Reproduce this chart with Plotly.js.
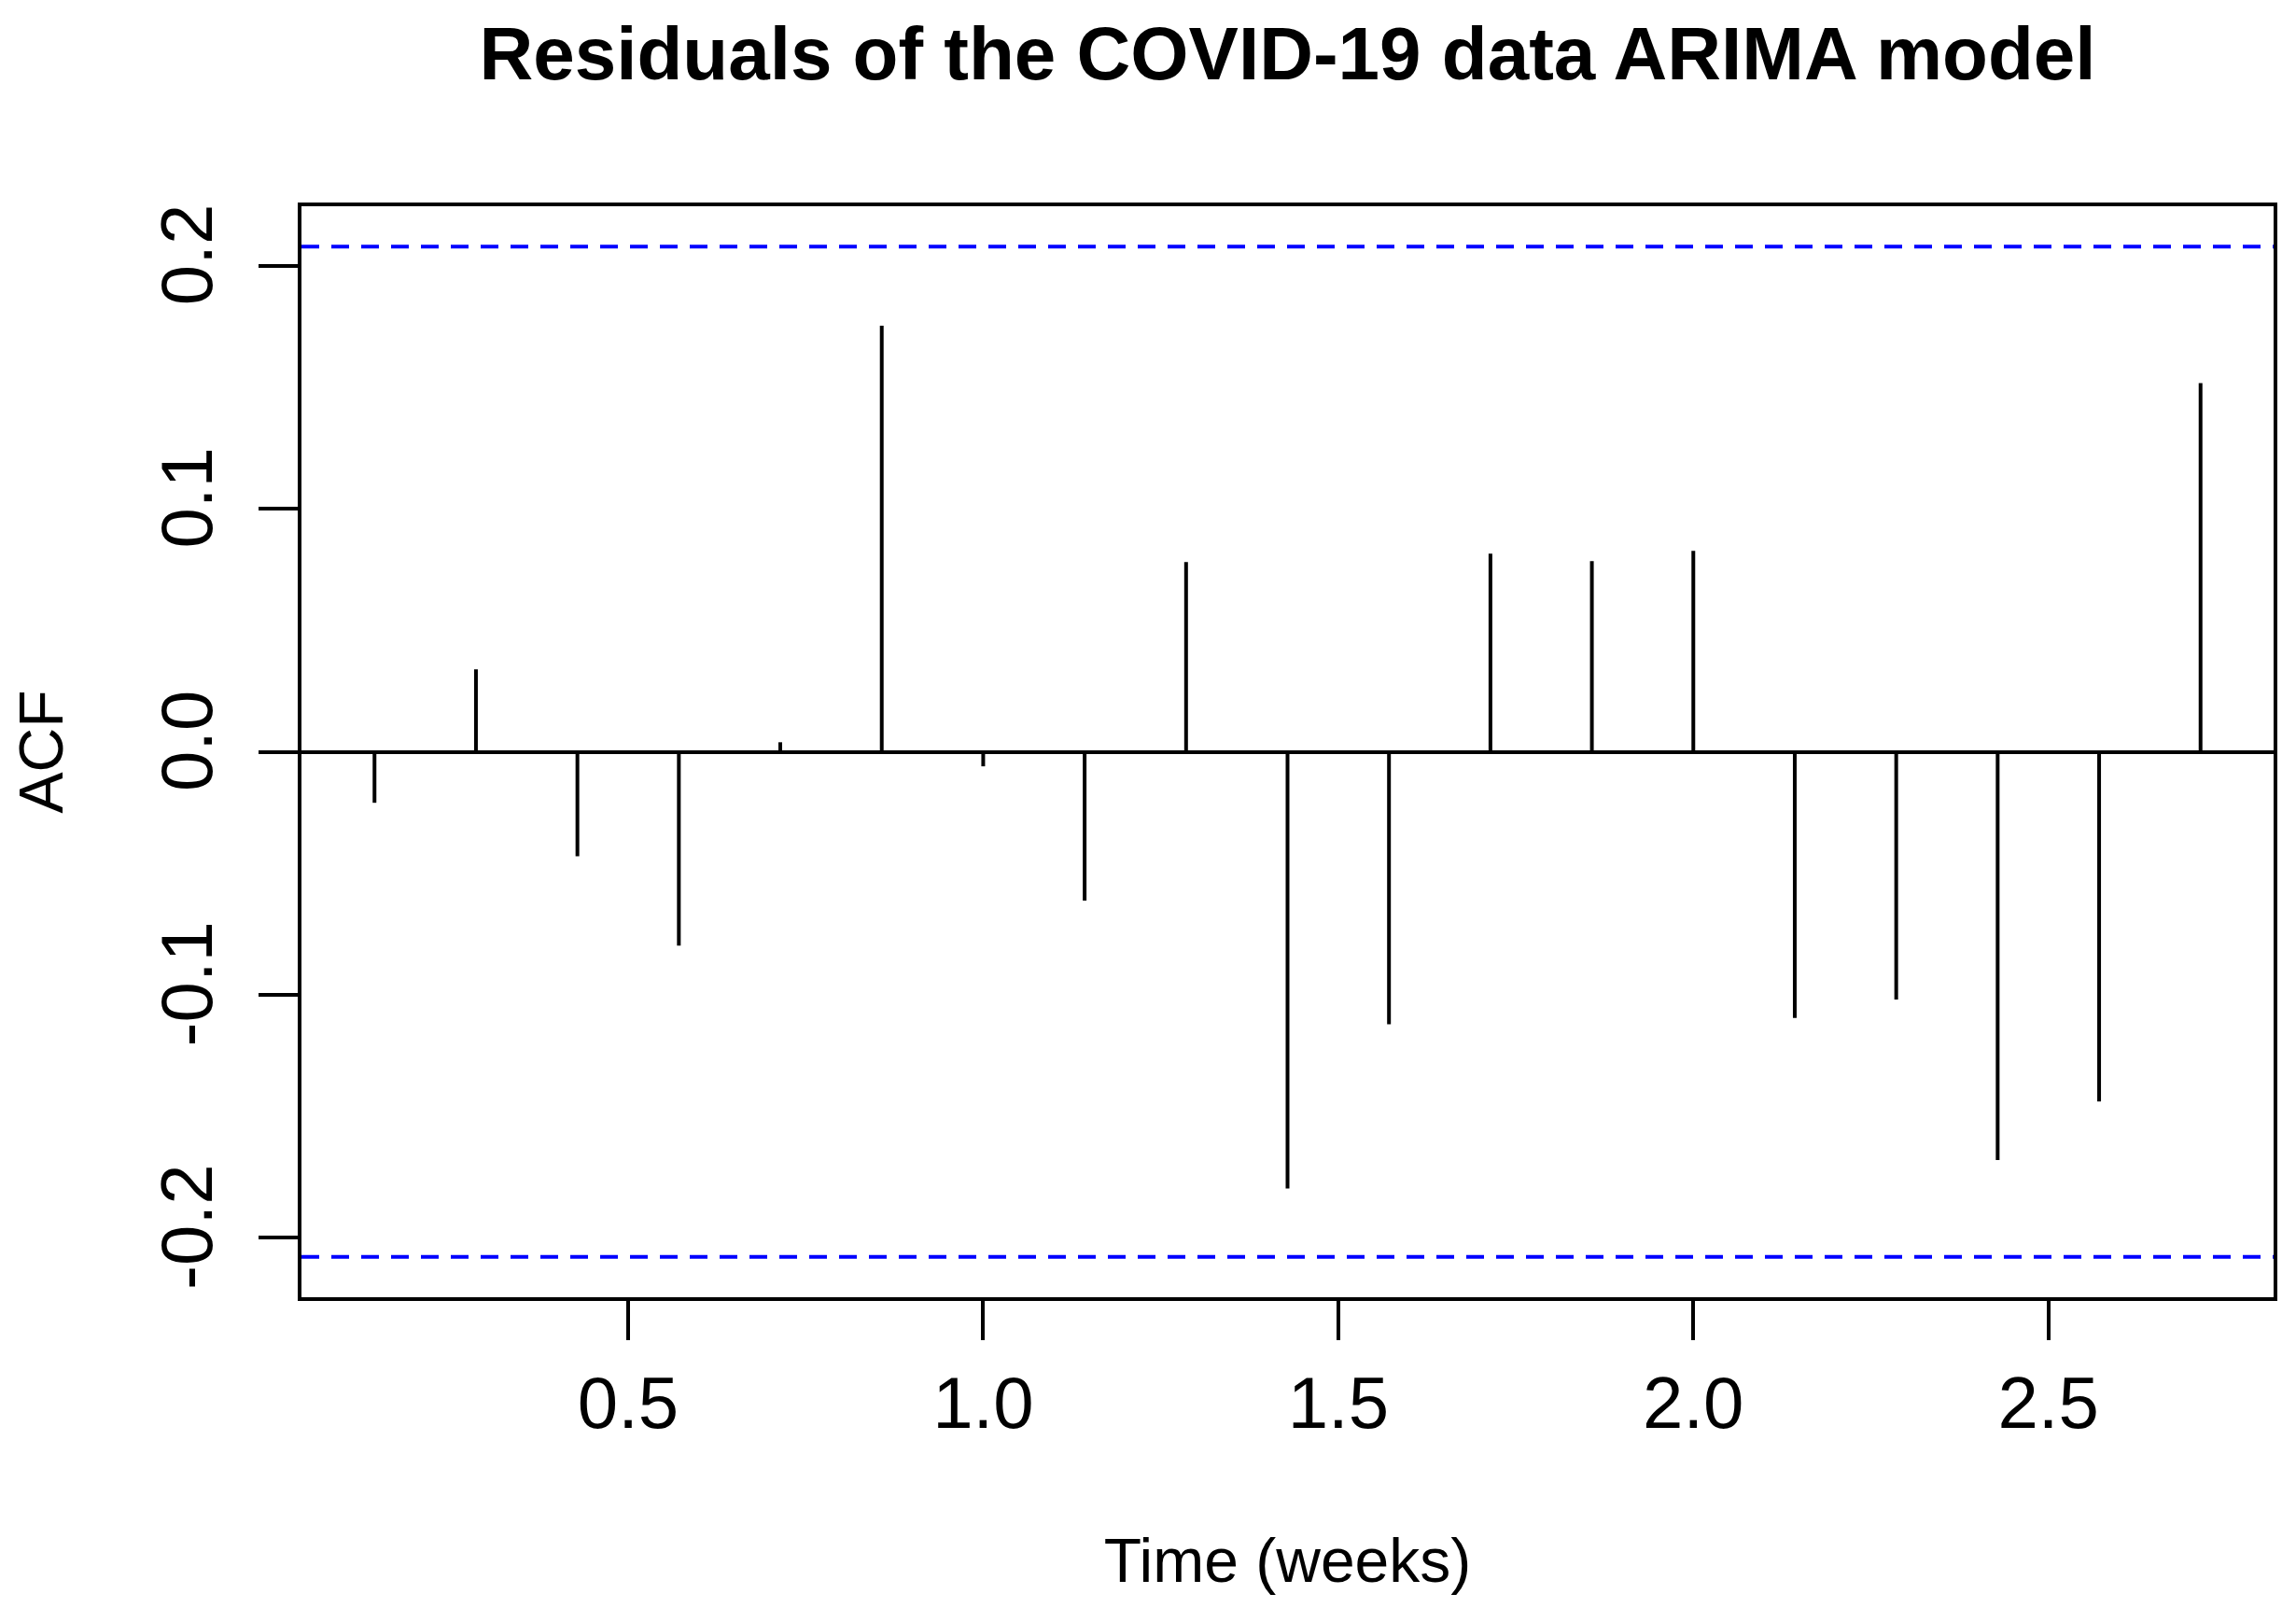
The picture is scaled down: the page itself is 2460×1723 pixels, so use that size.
<!DOCTYPE html>
<html>
<head>
<meta charset="utf-8">
<script src="https://cdn.plot.ly/plotly-3.0.1.min.js"></script>
<style>html,body{margin:0;padding:0;background:#fff;}#chart{width:2460px;height:1723px;}</style>
</head>
<body>
<div id="chart"></div>
<script>
// Lags (weeks = lag/7) and ACF values of the residuals
var lagIndex = [1,2,3,4,5,6,7,8,9,10,11,12,13,14,15,16,17,18,19];
var frequency = 7;
var acfValues = [-0.0210, 0.0339, -0.0430, -0.0798, 0.0039, 0.1753, -0.0060, -0.0612, 0.0780, -0.1797,
                 -0.1121, 0.0815, 0.0784, 0.0826, -0.1095, -0.1019, -0.1680, -0.1439, 0.1517];
var confLimit = 0.2078;   // 1.96/sqrt(n), n = 89
var xTickVals = [0.5, 1.0, 1.5, 2.0, 2.5];
var xTickText = ['0.5', '1.0', '1.5', '2.0', '2.5'];
var yTickVals = [-0.2, -0.1, 0, 0.1, 0.2];
var yTickText = ['-0.2', '-0.1', '0.0', '0.1', '0.2'];
var titleText = 'Residuals of the COVID-19 data ARIMA model';
var xTitle = 'Time (weeks)';
var yTitle = 'ACF';

var lags = lagIndex.map(function (k) { return k / frequency; });
var sx = [], sy = [];
for (var i = 0; i < lags.length; i++) {
  sx.push(lags[i], lags[i], null);
  sy.push(0, acfValues[i], null);
}

// R-style axis ranges (4% expansion)
var xmin = Math.min.apply(null, lags), xmax = Math.max.apply(null, lags);
var xpad = (xmax - xmin) * 0.04;
var ylo = Math.min(-confLimit, Math.min.apply(null, acfValues));
var yhi = Math.max(confLimit, Math.max.apply(null, acfValues));
var ypad = (yhi - ylo) * 0.04;

var FONT = 'Liberation Sans, Arial, sans-serif';

var traces = [{
  type: 'scatter', mode: 'lines', x: sx, y: sy,
  line: {color: '#000', width: 4}, hoverinfo: 'skip', showlegend: false
}];

var layout = {
  width: 2460, height: 1723,
  paper_bgcolor: '#fff', plot_bgcolor: '#fff',
  margin: {l: 323, r: 24, t: 221, b: 333},
  showlegend: false,
  title: {
    text: titleText, xref: 'paper', x: 0.5, xanchor: 'center',
    yref: 'container', y: 1 - 57 / 1723, yanchor: 'middle',
    font: {family: FONT, size: 80, color: '#000', weight: 700}
  },
  xaxis: {
    range: [xmin - xpad, xmax + xpad],
    tickmode: 'array', tickvals: xTickVals, ticktext: xTickText,
    ticks: 'outside', ticklen: 42, tickwidth: 4, tickcolor: '#000',
    showline: true, linecolor: '#000', linewidth: 4, mirror: true,
    showgrid: false, zeroline: false,
    tickfont: {family: FONT, size: 78, color: '#000'},
    title: {text: xTitle, standoff: 104, font: {family: FONT, size: 66, color: '#000'}}
  },
  yaxis: {
    range: [ylo - ypad, yhi + ypad],
    tickmode: 'array', tickvals: yTickVals, ticktext: yTickText,
    tickangle: -90, ticklabelstandoff: 19,
    ticks: 'outside', ticklen: 42, tickwidth: 4, tickcolor: '#000',
    showline: true, linecolor: '#000', linewidth: 4, mirror: true,
    showgrid: false, zeroline: true, zerolinecolor: '#000', zerolinewidth: 4,
    tickfont: {family: FONT, size: 78, color: '#000'},
    title: {text: yTitle, standoff: 68, font: {family: FONT, size: 66, color: '#000'}}
  },
  shapes: [confLimit, -confLimit].map(function (c) {
    return {type: 'line', xref: 'paper', x0: 0, x1: 1, yref: 'y', y0: c, y1: c,
            line: {color: '#0000ff', width: 4, dash: '19px,13px'}};
  })
};

Plotly.newPlot('chart', traces, layout, {displayModeBar: false, staticPlot: true});
</script>
</body>
</html>
